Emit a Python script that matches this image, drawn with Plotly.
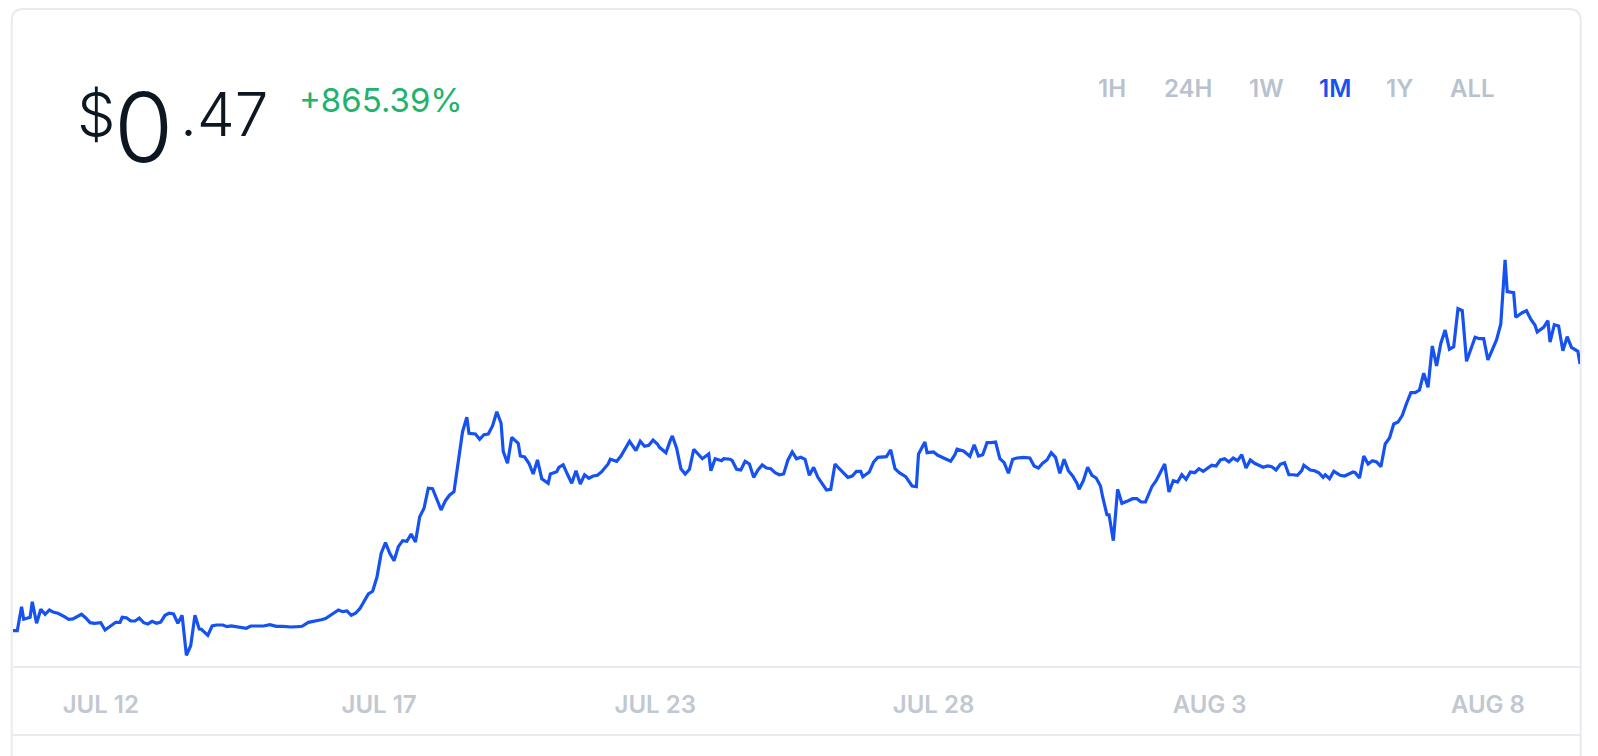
import plotly.graph_objects as go

# price history for the 1M view, x = hours since the first sample ======
hours = [
    0, 2, 4, 5, 8, 9, 11, 13, 15, 17, 19, 21, 24, 26, 28, 31, 32, 34, 36, 38,
    41, 43, 45, 48, 50, 51, 53, 55, 57, 59, 61, 63, 65, 67, 69, 71, 73, 75, 77, 79,
    81, 83, 85, 87, 88, 91, 93, 95, 98, 100, 102, 104, 107, 109, 111, 114, 117, 120, 123, 126,
    130, 133, 135, 138, 141, 144, 146, 148, 150, 152, 154, 156, 158, 160, 162, 164, 166, 168, 170, 172,
    174, 176, 178, 180, 182, 184, 186, 188, 190, 192, 194, 196, 197, 200, 202, 204, 206, 208, 210, 212,
    213, 216, 218, 220, 222, 224, 226, 228, 229, 231, 233, 236, 237, 239, 241, 243, 245, 247, 250, 251,
    254, 255, 257, 259, 261, 263, 265, 267, 269, 271, 273, 275, 278, 279, 282, 284, 286, 288, 291, 293,
    295, 297, 299, 301, 302, 305, 307, 308, 310, 312, 314, 316, 318, 321, 322, 325, 326, 328, 331, 332,
    335, 336, 338, 340, 342, 344, 346, 348, 350, 352, 354, 356, 358, 360, 362, 364, 366, 368, 370, 372,
    374, 376, 378, 380, 382, 384, 386, 388, 390, 392, 394, 396, 397, 400, 402, 404, 406, 408, 410, 412,
    414, 416, 417, 420, 422, 423, 426, 427, 430, 432, 434, 436, 438, 440, 441, 444, 445, 447, 449, 451,
    453, 455, 457, 459, 461, 463, 465, 467, 469, 472, 475, 477, 479, 481, 483, 485, 487, 489, 491, 493,
    495, 497, 498, 500, 502, 504, 506, 508, 509, 511, 512, 514, 516, 518, 521, 523, 525, 527, 529, 531,
    532, 534, 536, 538, 540, 542, 544, 546, 548, 550, 552, 554, 556, 558, 560, 562, 564, 566, 568, 570,
    572, 574, 576, 578, 580, 582, 584, 586, 588, 590, 592, 594, 596, 598, 600, 602, 603, 606, 608, 610,
    612, 613, 615, 617, 620, 622, 624, 626, 627, 629, 631, 633, 635, 637, 639, 641, 643, 645, 647, 649,
    651, 653, 655, 657, 659, 661, 663, 665, 667, 669, 671, 673, 675, 677, 679, 681, 683, 685, 687, 689,
    691, 693, 695, 697, 698, 701, 702, 705, 707, 709, 711, 712, 715, 717, 718, 720, 722, 724, 726, 728,
    731, 732,
]
price = [
    0.0487, 0.0487, 0.0866, 0.0667, 0.0698, 0.0945, 0.0604, 0.0825, 0.0746, 0.0814,
    0.0777, 0.0762, 0.0708, 0.0667, 0.0672, 0.0735, 0.0746, 0.0687, 0.0613, 0.0604,
    0.0613, 0.0498, 0.0550, 0.0619, 0.0619, 0.0698, 0.0692, 0.0640, 0.0640, 0.0687,
    0.0613, 0.0593, 0.0635, 0.0604, 0.0624, 0.0730, 0.0762, 0.0751, 0.0604, 0.0730,
    0.0098, 0.0250, 0.0730, 0.0514, 0.0509, 0.0414, 0.0561, 0.0577, 0.0577, 0.0550,
    0.0561, 0.0550, 0.0525, 0.0525, 0.0561, 0.0561, 0.0561, 0.0581, 0.0556, 0.0556,
    0.0545, 0.0550, 0.0556, 0.0619, 0.0635, 0.0660, 0.0679, 0.0724, 0.0771, 0.0814,
    0.0787, 0.0798, 0.0730, 0.0762, 0.0834, 0.0951, 0.1067, 0.1109, 0.1330, 0.1710,
    0.1877, 0.1710, 0.1593, 0.1814, 0.1909, 0.1899, 0.2015, 0.1888, 0.2288, 0.2421,
    0.2737, 0.2730, 0.2647, 0.2394, 0.2541, 0.2631, 0.2683, 0.3184, 0.3631, 0.3858,
    0.3606, 0.3595, 0.3511, 0.3583, 0.3595, 0.3721, 0.3947, 0.3764, 0.3321, 0.3132,
    0.3542, 0.3448, 0.3247, 0.3231, 0.3132, 0.2963, 0.3184, 0.2888, 0.2816, 0.2963,
    0.2999, 0.3068, 0.3109, 0.2958, 0.2816, 0.3015, 0.2805, 0.2951, 0.2895, 0.2931,
    0.2942, 0.2999, 0.3121, 0.3195, 0.3163, 0.3247, 0.3369, 0.3479, 0.3331, 0.3479,
    0.3400, 0.3416, 0.3500, 0.3437, 0.3384, 0.3299, 0.3489, 0.3563, 0.3369, 0.3046,
    0.2963, 0.3037, 0.3353, 0.3226, 0.3204, 0.3279, 0.3015, 0.3204, 0.3173, 0.3204,
    0.3195, 0.3173, 0.3037, 0.3026, 0.3163, 0.3121, 0.2910, 0.3026, 0.3105, 0.3057,
    0.3046, 0.2983, 0.2951, 0.2963, 0.3184, 0.3310, 0.3204, 0.3226, 0.3195, 0.2942,
    0.3068, 0.2910, 0.2816, 0.2710, 0.2721, 0.3121, 0.3046, 0.2974, 0.2910, 0.2931,
    0.3005, 0.3005, 0.2920, 0.2994, 0.3152, 0.3226, 0.3236, 0.3236, 0.3342, 0.3046,
    0.2983, 0.2931, 0.2920, 0.2773, 0.2762, 0.3279, 0.3468, 0.3299, 0.3310, 0.3258,
    0.3226, 0.3195, 0.3163, 0.3267, 0.3353, 0.3326, 0.3294, 0.3242, 0.3425, 0.3247,
    0.3267, 0.3457, 0.3457, 0.3468, 0.3204, 0.3141, 0.2974, 0.3195, 0.3215, 0.3226,
    0.3215, 0.3089, 0.3057, 0.3132, 0.3184, 0.3299, 0.3226, 0.2974, 0.3195, 0.3015,
    0.2931, 0.2816, 0.2721, 0.2857, 0.3068, 0.2942, 0.2899, 0.2773, 0.2604, 0.2319,
    0.2319, 0.1909, 0.2721, 0.2500, 0.2541, 0.2572, 0.2572, 0.2520, 0.2520, 0.2699,
    0.2762, 0.2857, 0.2983, 0.3121, 0.2678, 0.2857, 0.2836, 0.2951, 0.2879, 0.2994,
    0.2983, 0.3046, 0.3005, 0.3046, 0.3100, 0.3089, 0.3184, 0.3204, 0.3152, 0.3215,
    0.3173, 0.3267, 0.3057, 0.3184, 0.3132, 0.3100, 0.3068, 0.3089, 0.3078, 0.3026,
    0.3116, 0.3141, 0.2951, 0.2951, 0.2942, 0.3015, 0.3100, 0.3026, 0.3015, 0.2983,
    0.2910, 0.2951, 0.2888, 0.3005, 0.2942, 0.2931, 0.2963, 0.2994, 0.2983, 0.2899,
    0.3247, 0.3121, 0.3173, 0.3152, 0.3078, 0.3437, 0.3531, 0.3753, 0.3784, 0.3890,
    0.4080, 0.4247, 0.4247, 0.4290, 0.4554, 0.4332, 0.4985, 0.4669, 0.5028, 0.5238,
    0.4933, 0.4974, 0.5574, 0.5543, 0.4743, 0.4922, 0.5122, 0.5100, 0.5100, 0.4764,
    0.4922, 0.5080, 0.5333, 0.6344, 0.5843, 0.5827, 0.5438, 0.5511, 0.5543, 0.5407,
    0.5312, 0.5206, 0.5280, 0.5385, 0.5048, 0.5321, 0.5301, 0.4911, 0.5132, 0.4964,
    0.4901, 0.4700,
]

tick_hours = [41, 171, 300, 430, 559, 689]
tick_labels = ["JUL 12", "JUL 17", "JUL 23", "JUL 28", "AUG 3", "AUG 8"]

range_buttons = ["1H", "24H", "1W", "1M", "1Y", "ALL"]
active_range = "1M"

price_whole = "0"
price_cents = ".47"
change_text = "+865.39%"

# page geometry ===================
# the page body adds an 8px margin, so positions below are page pixels
# and get shifted back by OFF when turned into paper coordinates
W, H = 1598, 756
OFF = 8
L, R, T, B = 5, 26, 142, 98
PW, PH = W - L - R, H - T - B

BLUE = "#1652f0"
GREEN = "#21b26c"
INK = "#0c1722"
MUTED = "#b8c2ce"
BORDER = "#e7ebf0"
FONT = "Inter"


def px(x):
    return (x - OFF - L) / PW


def py(y):
    return (H - B - (y - OFF)) / PH


# y scale: zero sits a few pixels above the axis line
k = 0.00158
zero_px = 653.5
y_lo = k * (zero_px - (H - B))
y_hi = k * (zero_px - T)

fig = go.Figure(go.Scatter(
    x=hours,
    y=price,
    mode="lines",
    line=dict(color=BLUE, width=3.2),
    hoverinfo="skip",
))

# card outline with rounded top corners
cl, cr, ct, cb, rad = 11.7, 1580.7, 9, 800, 12
card = (f"M {px(cl)},{py(cb)} L {px(cl)},{py(ct + rad)} "
        f"Q {px(cl)},{py(ct)} {px(cl + rad)},{py(ct)} "
        f"L {px(cr - rad)},{py(ct)} "
        f"Q {px(cr)},{py(ct)} {px(cr)},{py(ct + rad)} "
        f"L {px(cr)},{py(cb)}")

shapes = [
    dict(type="path", path=card, xref="paper", yref="paper",
         line=dict(color=BORDER, width=2), layer="below"),
    dict(type="line", xref="paper", yref="paper",
         x0=px(cl), x1=px(cr), y0=py(735), y1=py(735),
         line=dict(color=BORDER, width=2)),
]

annotations = [
    dict(text="$", x=px(96), y=py(114), font=dict(size=61, weight=300, color=INK)),
    dict(text=price_whole, x=px(143), y=py(127), font=dict(size=96, weight=300, color=INK)),
    dict(text=price_cents, x=px(224), y=py(114), font=dict(size=60, weight=300, color=INK)),
    dict(text=change_text, x=px(297), y=py(100), xanchor="left",
         font=dict(size=33, weight=400, color=GREEN)),
]

button_x = [1112, 1188, 1266, 1335, 1399, 1472]
for name, bx in zip(range_buttons, button_x):
    annotations.append(dict(
        text=name, x=px(bx), y=py(88),
        font=dict(size=24, weight=600, color=BLUE if name == active_range else MUTED),
    ))

for a in annotations:
    a.setdefault("xanchor", "center")
    a.update(xref="paper", yref="paper", yanchor="middle", showarrow=False)
    a["font"].setdefault("family", FONT)

fig.update_layout(
    width=W, height=H,
    margin=dict(l=L, r=R, t=T, b=B),
    paper_bgcolor="white",
    plot_bgcolor="white",
    showlegend=False,
    shapes=shapes,
    annotations=annotations,
    xaxis=dict(
        range=[0, hours[-1]],
        showgrid=False, zeroline=False,
        showline=True, linecolor=BORDER, linewidth=2,
        tickvals=tick_hours, ticktext=tick_labels,
        ticks="", ticklabelstandoff=16,
        tickfont=dict(family=FONT, size=24, weight=600, color="#c1c8d1"),
        fixedrange=True,
    ),
    yaxis=dict(range=[y_lo, y_hi], visible=False, fixedrange=True),
)

fig.write_html("out.html")
